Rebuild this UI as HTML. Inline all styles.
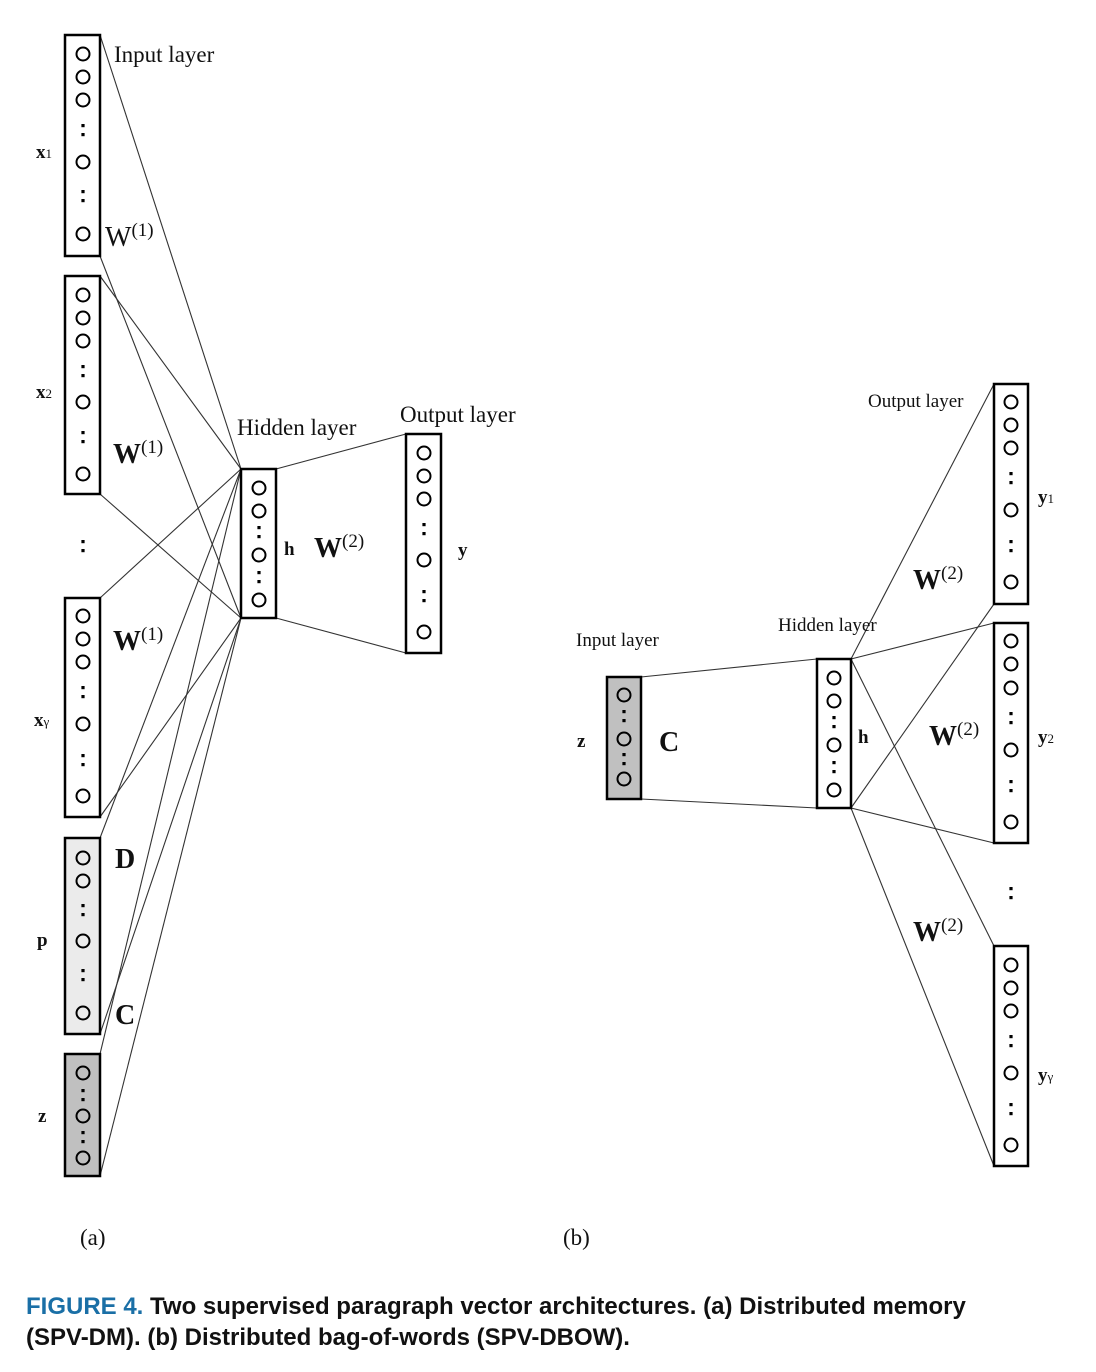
<!DOCTYPE html>
<html><head><meta charset="utf-8"><style>
html,body{margin:0;padding:0;background:#fff;}
svg{display:block;}
.t{font-family:"Liberation Serif",serif;fill:#111;}
.b{font-weight:bold;}
.cap{font-family:"Liberation Sans",sans-serif;font-weight:bold;font-size:24px;fill:#111;}
</style></head><body>
<svg width="1096" height="1372" viewBox="0 0 1096 1372" xmlns="http://www.w3.org/2000/svg">
<defs>
<g id="c"><circle r="6.5" fill="none" stroke="#000" stroke-width="2"/></g>
<g id="d"><rect x="-1.6" y="-6" width="3.2" height="3.2" fill="#000"/><rect x="-1.6" y="3" width="3.2" height="3.2" fill="#000"/></g>
</defs>
<g stroke="#333" stroke-width="1.1" fill="none">
<!-- panel a connections -->
<line x1="100" y1="35" x2="241" y2="469"/>
<line x1="100" y1="256" x2="241" y2="618"/>
<line x1="100" y1="276" x2="241" y2="469"/>
<line x1="100" y1="494" x2="241" y2="618"/>
<line x1="100" y1="598" x2="241" y2="469"/>
<line x1="100" y1="817" x2="241" y2="618"/>
<line x1="100" y1="838" x2="241" y2="469"/>
<line x1="100" y1="1034" x2="241" y2="618"/>
<line x1="100" y1="1054" x2="241" y2="469"/>
<line x1="100" y1="1176" x2="241" y2="618"/>
<line x1="276" y1="469" x2="406" y2="434"/>
<line x1="276" y1="618" x2="406" y2="653"/>
<!-- panel b -->
<line x1="641" y1="677" x2="817" y2="659"/>
<line x1="641" y1="799" x2="817" y2="808"/>
<line x1="851" y1="659" x2="994" y2="384"/>
<line x1="851" y1="808" x2="994" y2="604"/>
<line x1="851" y1="659" x2="994" y2="623"/>
<line x1="851" y1="808" x2="994" y2="843"/>
<line x1="851" y1="659" x2="994" y2="946"/>
<line x1="851" y1="808" x2="994" y2="1166"/>
</g>
<g stroke="#000" stroke-width="2.5">
<rect x="65" y="35" width="35" height="221" fill="#fff"/>
<rect x="65" y="276" width="35" height="218" fill="#fff"/>
<rect x="65" y="598" width="35" height="219" fill="#fff"/>
<rect x="65" y="838" width="35" height="196" fill="#ebebeb"/>
<rect x="65" y="1054" width="35" height="122" fill="#c0c0c0"/>
<rect x="241" y="469" width="35" height="149" fill="#fff"/>
<rect x="406" y="434" width="35" height="219" fill="#fff"/>
<rect x="607" y="677" width="34" height="122" fill="#c0c0c0"/>
<rect x="817" y="659" width="34" height="149" fill="#fff"/>
<rect x="994" y="384" width="34" height="220" fill="#fff"/>
<rect x="994" y="623" width="34" height="220" fill="#fff"/>
<rect x="994" y="946" width="34" height="220" fill="#fff"/>
</g>
<!-- x1 -->
<g transform="translate(83,0)"><use href="#c" y="54"/><use href="#c" y="77"/><use href="#c" y="100"/><use href="#d" y="130"/><use href="#c" y="162"/><use href="#d" y="196"/><use href="#c" y="234"/></g>
<g transform="translate(83,0)"><use href="#c" y="295"/><use href="#c" y="318"/><use href="#c" y="341"/><use href="#d" y="371"/><use href="#c" y="402"/><use href="#d" y="437"/><use href="#c" y="474"/></g>
<g transform="translate(83,0)"><use href="#d" y="546"/></g>
<g transform="translate(83,0)"><use href="#c" y="616"/><use href="#c" y="639"/><use href="#c" y="662"/><use href="#d" y="692"/><use href="#c" y="724"/><use href="#d" y="760"/><use href="#c" y="796"/></g>
<g transform="translate(83,0)"><use href="#c" y="858"/><use href="#c" y="881"/><use href="#d" y="910"/><use href="#c" y="941"/><use href="#d" y="975"/><use href="#c" y="1013"/></g>
<g transform="translate(83,0)"><use href="#c" y="1073"/><use href="#d" y="1095"/><use href="#c" y="1116"/><use href="#d" y="1137"/><use href="#c" y="1158"/></g>
<g transform="translate(259,0)"><use href="#c" y="488"/><use href="#c" y="511"/><use href="#d" y="532"/><use href="#c" y="555"/><use href="#d" y="577"/><use href="#c" y="600"/></g>
<g transform="translate(424,0)"><use href="#c" y="453"/><use href="#c" y="476"/><use href="#c" y="499"/><use href="#d" y="529"/><use href="#c" y="560"/><use href="#d" y="596"/><use href="#c" y="632"/></g>
<g transform="translate(624,0)"><use href="#c" y="695"/><use href="#d" y="716"/><use href="#c" y="739"/><use href="#d" y="759"/><use href="#c" y="779"/></g>
<g transform="translate(834,0)"><use href="#c" y="678"/><use href="#c" y="701"/><use href="#d" y="722"/><use href="#c" y="745"/><use href="#d" y="767"/><use href="#c" y="790"/></g>
<g transform="translate(1011,0)"><use href="#c" y="402"/><use href="#c" y="425"/><use href="#c" y="448"/><use href="#d" y="478"/><use href="#c" y="510"/><use href="#d" y="546"/><use href="#c" y="582"/></g>
<g transform="translate(1011,0)"><use href="#c" y="641"/><use href="#c" y="664"/><use href="#c" y="688"/><use href="#d" y="718"/><use href="#c" y="750"/><use href="#d" y="786"/><use href="#c" y="822"/></g>
<g transform="translate(1011,0)"><use href="#d" y="893"/></g>
<g transform="translate(1011,0)"><use href="#c" y="965"/><use href="#c" y="988"/><use href="#c" y="1011"/><use href="#d" y="1041"/><use href="#c" y="1073"/><use href="#d" y="1109"/><use href="#c" y="1145"/></g>
<!-- labels -->
<text class="t" x="114" y="62" font-size="23">Input layer</text>
<text class="t" x="105" y="246" font-size="28">W<tspan font-size="19" dy="-10">(1)</tspan></text>
<text class="t b" x="113" y="463" font-size="28">W<tspan font-size="19" dy="-10" font-weight="normal">(1)</tspan></text>
<text class="t b" x="113" y="650" font-size="28">W<tspan font-size="19" dy="-10" font-weight="normal">(1)</tspan></text>
<text class="t b" x="115" y="868" font-size="28">D</text>
<text class="t b" x="115" y="1024" font-size="28">C</text>
<text class="t b" x="36" y="158" font-size="19">x<tspan font-size="13" font-weight="normal">1</tspan></text>
<text class="t b" x="36" y="398" font-size="19">x<tspan font-size="13" font-weight="normal">2</tspan></text>
<text class="t b" x="34" y="726" font-size="19">x<tspan font-size="13" font-weight="normal">γ</tspan></text>
<text class="t b" x="37" y="946" font-size="19">p</text>
<text class="t b" x="38" y="1122" font-size="19">z</text>
<text class="t" x="237" y="435" font-size="23">Hidden layer</text>
<text class="t" x="400" y="422" font-size="23">Output layer</text>
<text class="t b" x="284" y="555" font-size="19">h</text>
<text class="t b" x="314" y="557" font-size="28">W<tspan font-size="19" dy="-10" font-weight="normal">(2)</tspan></text>
<text class="t b" x="458" y="556" font-size="19">y</text>
<text class="t" x="576" y="646" font-size="19">Input layer</text>
<text class="t" x="778" y="631" font-size="19">Hidden layer</text>
<text class="t" x="868" y="407" font-size="19">Output layer</text>
<text class="t b" x="577" y="747" font-size="19">z</text>
<text class="t b" x="659" y="751" font-size="28">C</text>
<text class="t b" x="858" y="743" font-size="19">h</text>
<text class="t b" x="913" y="589" font-size="28">W<tspan font-size="19" dy="-10" font-weight="normal">(2)</tspan></text>
<text class="t b" x="929" y="745" font-size="28">W<tspan font-size="19" dy="-10" font-weight="normal">(2)</tspan></text>
<text class="t b" x="913" y="941" font-size="28">W<tspan font-size="19" dy="-10" font-weight="normal">(2)</tspan></text>
<text class="t b" x="1038" y="503" font-size="19">y<tspan font-size="13" font-weight="normal">1</tspan></text>
<text class="t b" x="1038" y="743" font-size="19">y<tspan font-size="13" font-weight="normal">2</tspan></text>
<text class="t b" x="1038" y="1081" font-size="19">y<tspan font-size="13" font-weight="normal">γ</tspan></text>
<text class="t" x="80" y="1245" font-size="23">(a)</text>
<text class="t" x="563" y="1245" font-size="23">(b)</text>
<text class="cap" x="26" y="1314"><tspan fill="#1a6fa6">FIGURE 4.</tspan> Two supervised paragraph vector architectures. (a) Distributed memory</text>
<text class="cap" x="26" y="1345">(SPV-DM). (b) Distributed bag-of-words (SPV-DBOW).</text>
</svg>
</body></html>
